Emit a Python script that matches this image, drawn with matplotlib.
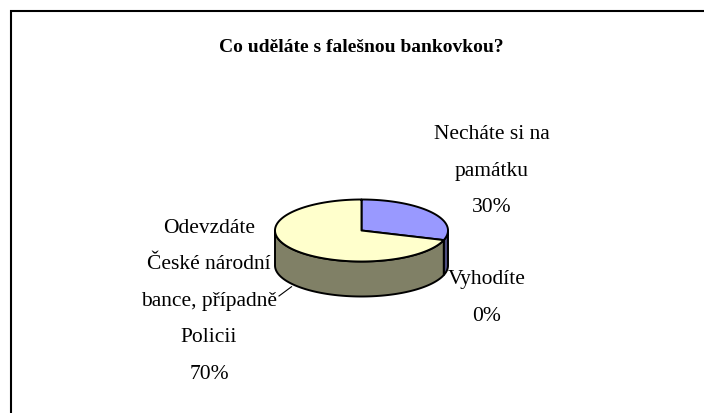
import numpy as np
import matplotlib
matplotlib.use("Agg")
import matplotlib.pyplot as plt
from matplotlib.patches import Polygon
from matplotlib.colors import to_rgb

# ---- data ----
title = "Co uděláte s falešnou bankovkou?"
labels = ["Necháte si na\npamátku", "Vyhodíte", "Odevzdáte\nČeské národní\nbance, případně\nPolicii"]
values = [30, 0, 70]
top_colors = ["#9999FF", "#993366", "#FFFFCC"]

# ---- layout ----
W, H = 704, 414
cx, cy, rx, ry, depth = 361.5, 231.5, 86.5, 31.0, 35.0
label_pos = [(492, 171.5), (487, 298), (209, 301.5)]
FONT = "Liberation Serif"
LW = 1.4

fig = plt.figure(figsize=(W / 100, H / 100), dpi=100)
ax = fig.add_axes([0, 0, 1, 1])
ax.set_xlim(0, W)
ax.set_ylim(H, 0)
ax.axis("off")


def ell(t_deg, dy=0.0):
    t = np.radians(t_deg)
    return cx + rx * np.cos(t), cy - ry * np.sin(t) + dy


def darken(c, f=0.5):
    r, g, b = to_rgb(c)
    return (r * f, g * f, b * f)


total = float(sum(values))
bounds = []
a = 90.0
for v in values:
    a1 = a - 360.0 * v / total
    bounds.append((a, a1))
    a = a1

# side walls (front half: param angles -180..0)
for (a0, a1), col in zip(bounds, top_colors):
    if a0 == a1:
        continue
    lo_s, hi_s = a1, a0
    for k in (-1, 0, 1):
        lo = max(lo_s, -180 + 360 * k)
        hi = min(hi_s, 0 + 360 * k)
        if hi <= lo:
            continue
        t = np.linspace(lo, hi, 120)
        xt, yt = ell(t)
        xb, yb = ell(t, depth)
        xs = np.concatenate([xt, xb[::-1]])
        ys = np.concatenate([yt, yb[::-1]])
        ax.add_patch(Polygon(np.column_stack([xs, ys]), closed=True,
                             facecolor=darken(col), edgecolor="black",
                             lw=LW, joinstyle="round", zorder=2))

# top wedges
for (a0, a1), col in zip(bounds, top_colors):
    if a0 == a1:
        continue
    t = np.linspace(a0, a1, 300)
    xt, yt = ell(t)
    xs = np.concatenate([[cx], xt])
    ys = np.concatenate([[cy], yt])
    ax.add_patch(Polygon(np.column_stack([xs, ys]), closed=True,
                         facecolor=col, edgecolor="black",
                         lw=LW, joinstyle="round", zorder=3))

# labels
for lab, v, (lx, ly) in zip(labels, values, label_pos):
    ax.text(lx, ly, f"{lab}\n{v}%", ha="center", va="center",
            fontsize=15.5, family=FONT, linespacing=2.25, zorder=5)

# leader line for the big slice
a0, a1 = bounds[2]
mid = (a0 + a1) / 2
ex, ey = ell(mid, depth + 3)
ax.plot([279, ex], [297, ey], color="black", lw=0.8, zorder=4)

# title
ax.text(361, 48, title, ha="center", va="center", fontsize=14,
        fontweight="bold", family=FONT)

# chart frame (top and left edges visible)
ax.plot([10.5, 10.5, W], [H, 11.5, 11.5], color="black", lw=1.5,
        solid_joinstyle="miter", zorder=6)

fig.savefig("out.png", dpi=100)
